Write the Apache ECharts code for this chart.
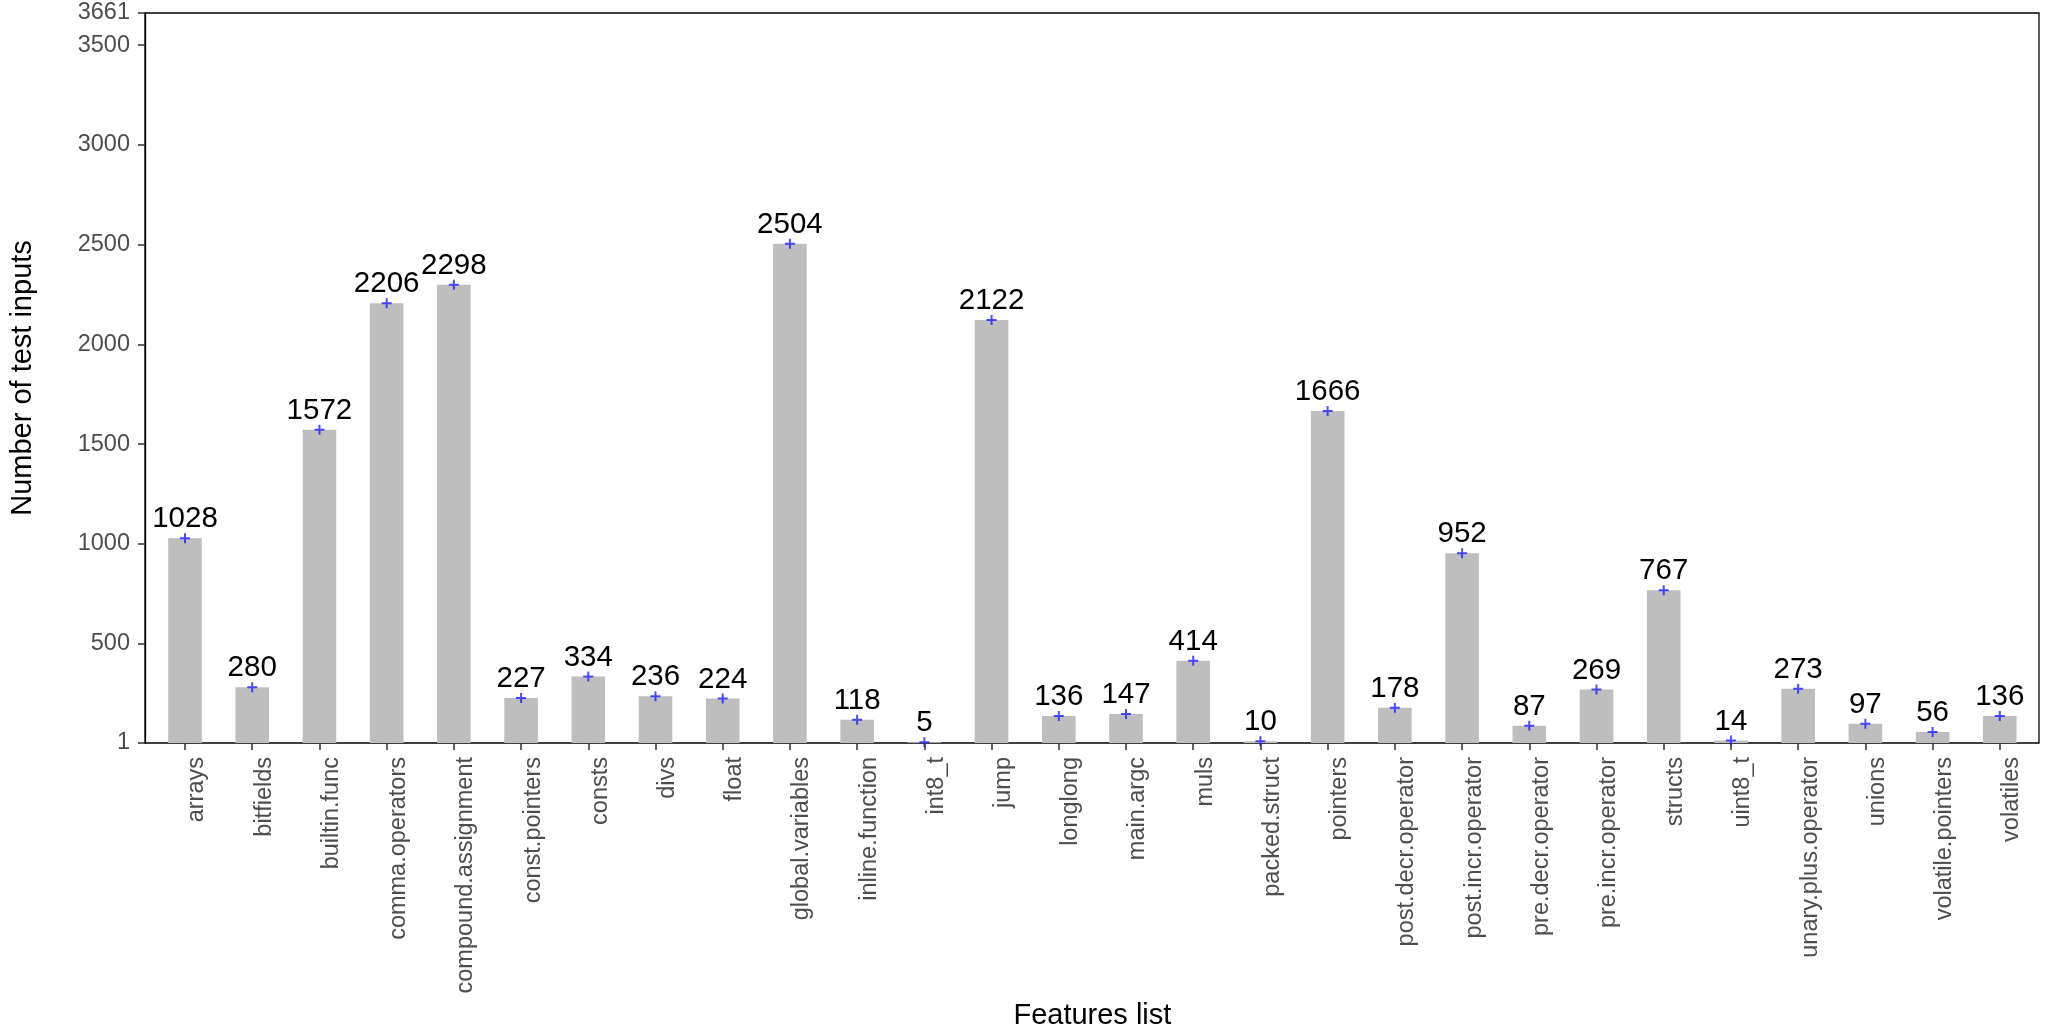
<!DOCTYPE html>
<html>
<head>
<meta charset="utf-8">
<script src="https://cdn.jsdelivr.net/npm/echarts@6/dist/echarts.min.js"></script>
<style>
  html, body { margin: 0; padding: 0; background: #fff; }
  #chart { width: 2052px; height: 1036px; }
</style>
</head>
<body>
<div id="chart"></div>
<script>
const features = [
  "arrays", "bitfields", "builtin.func", "comma.operators", "compound.assignment",
  "const.pointers", "consts", "divs", "float", "global.variables", "inline.function",
  "int8_t", "jump", "longlong", "main.argc", "muls", "packed.struct", "pointers",
  "post.decr.operator", "post.incr.operator", "pre.decr.operator", "pre.incr.operator",
  "structs", "uint8_t", "unary.plus.operator", "unions", "volatile.pointers", "volatiles"
];
const testInputs = [
  1028, 280, 1572, 2206, 2298, 227, 334, 236, 224, 2504, 118, 5, 2122, 136, 147,
  414, 10, 1666, 178, 952, 87, 269, 767, 14, 273, 97, 56, 136
];
const yTicks = [1, 500, 1000, 1500, 2000, 2500, 3000, 3500, 3661];
const yMin = 1;
const yMax = 3661;

const font = "'Liberation Sans', Arial, sans-serif";
const plusPath = "path://M4,0h2v4h4v2h-4v4h-2v-4h-4v-2h4z";

const myChart = echarts.init(document.getElementById("chart"));

const option = {
  animation: false,
  textStyle: { fontFamily: font },
  grid: [
    // panel frame + y axis
    { left: 145, top: 13, right: 13, bottom: 293, show: true, borderColor: "#000", borderWidth: 1.3, backgroundColor: "transparent" },
    // data area (ggplot expands discrete axis by 0.6 units on each side)
    { left: 151.4, top: 13, right: 18.6, bottom: 293 }
  ],
  xAxis: [
    { gridIndex: 0, type: "value", min: 0, max: 1, show: false },
    {
      gridIndex: 1,
      type: "category",
      data: features,
      name: "Features list",
      nameLocation: "middle",
      nameGap: 253,
      nameTextStyle: { fontSize: 29, color: "#000", fontFamily: font },
      axisLine: { show: false },
      axisTick: { show: true, alignWithLabel: true, length: 7, lineStyle: { color: "#333", width: 1.5 } },
      axisLabel: {
        interval: 0,
        rotate: 90,
        margin: 14,
        verticalAlign: "top",
        fontSize: 23.5,
        color: "#4d4d4d",
        fontFamily: font
      },
      splitLine: { show: false }
    }
  ],
  yAxis: [
    {
      gridIndex: 0,
      type: "value",
      min: yMin,
      max: yMax,
      name: "Number of test inputs",
      nameLocation: "middle",
      nameGap: 108,
      nameRotate: 90,
      nameTextStyle: { fontSize: 29, color: "#000", fontFamily: font },
      axisLine: { show: true, lineStyle: { color: "#000", width: 1.3 } },
      axisTick: { show: true, length: 7, customValues: yTicks, lineStyle: { color: "#333", width: 1.5 } },
      axisLabel: {
        customValues: yTicks,
        formatter: function (v) { return String(v); },
        margin: 15,
        fontSize: 23.5,
        color: "#4d4d4d",
        fontFamily: font
      },
      splitLine: { show: false }
    },
    { gridIndex: 1, type: "value", min: yMin, max: yMax, show: false, splitLine: { show: false } }
  ],
  series: [
    {
      type: "bar",
      xAxisIndex: 1,
      yAxisIndex: 1,
      data: testInputs,
      barWidth: "50%",
      itemStyle: { color: "#bebebe" },
      label: {
        show: true,
        position: "top",
        distance: 4,
        fontSize: 29.5,
        color: "#000",
        fontFamily: font
      }
    },
    {
      type: "scatter",
      xAxisIndex: 1,
      yAxisIndex: 1,
      data: testInputs,
      symbol: plusPath,
      symbolSize: 10,
      itemStyle: { color: "#1f1fff" },
      z: 5
    }
  ]
};

myChart.setOption(option);
</script>
</body>
</html>
